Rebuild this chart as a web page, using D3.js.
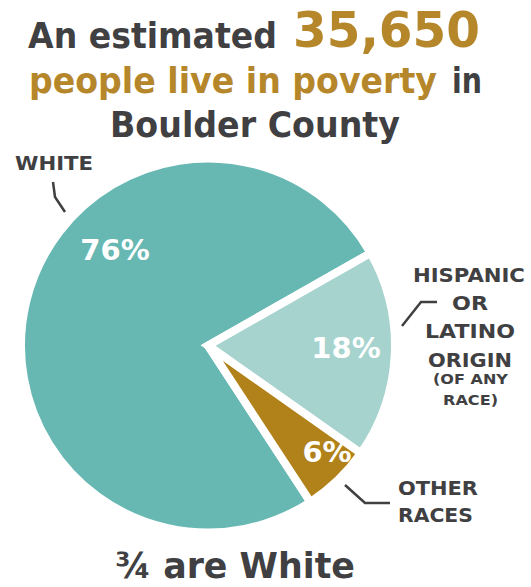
<!DOCTYPE html>
<html>
<head>
<meta charset="utf-8">
<script src="https://cdn.jsdelivr.net/npm/d3@7"></script>
<style>
  html, body { margin: 0; padding: 0; background: #ffffff; }
  svg { display: block; }
  text { font-family: "DejaVu Sans", sans-serif; font-weight: bold; }
</style>
</head>
<body>
<svg id="chart" width="531" height="587"></svg>
<script>
// Poverty population by race / ethnicity, Boulder County
const categories = ["White", "Hispanic or Latino origin (of any race)", "Other races"];
const shares = [76, 18, 6];
const valueLabels = ["76%", "18%", "6%"];
const sliceColors = ["#67b8b3", "#a6d3ce", "#b08219"];

const titleLines = [
  [{ t: "An estimated", gold: false }, { t: "35,650", gold: true }],
  [{ t: "people live in poverty", gold: true }, { t: "in", gold: false }],
  [{ t: "Boulder County", gold: false }]
];
const calloutWhite = ["WHITE"];
const calloutHispanic = ["HISPANIC", "OR", "LATINO", "ORIGIN", "(OF ANY", "RACE)"];
const calloutOther = ["OTHER", "RACES"];
const footnote = "\u00BE are White";

const svg = d3.select("#chart");
const dark = "#404042";
const gold = "#b5872a";

// Draws a text run whose ink spans [x, x + w] (or centred on x), squeezing
// the glyphs horizontally so the rendered box really has that width.
function fitted(parent, d) {
  const t = parent.append("text")
    .attr("font-size", d.size)
    .attr("fill", d.fill)
    .text(d.text);
  const natural = t.node().getComputedTextLength();
  const sx = Math.min(1.15, d.w / natural);
  const left = d.anchor === "middle" ? d.x - d.w / 2 : d.x;
  t.attr("transform", `translate(${left},${d.y}) scale(${sx},1)`);
  return t;
}

// ---- headline ----
const headline = [
  { text: titleLines[0][0].t, x: 28, w: 249, y: 48, size: 36, fill: dark },
  { text: titleLines[0][1].t, x: 293, w: 187, y: 47, size: 50, fill: gold },
  { text: titleLines[1][0].t, x: 29, w: 408, y: 93, size: 35, fill: gold },
  { text: titleLines[1][1].t, x: 452, w: 30, y: 93, size: 35, fill: dark },
  { text: titleLines[2][0].t, x: 110, w: 290, y: 137, size: 35, fill: dark }
];
headline.forEach(d => fitted(svg, d));

// ---- pie ----
const cx = 208, cy = 345.5, R = 187;
const deg = Math.PI / 180;
const startAngle = 146.8 * deg;

const pie = d3.pie().sort(null).value(d => d)
  .startAngle(startAngle).endAngle(startAngle + 2 * Math.PI);
const arc = d3.arc().innerRadius(0).outerRadius(R);
const arcs = pie(shares);

const g = svg.append("g").attr("transform", `translate(${cx},${cy})`);
g.selectAll("path").data(arcs).join("path")
  .attr("d", arc)
  .attr("fill", (d, i) => sliceColors[i])
  .attr("stroke", "#ffffff")
  .attr("stroke-width", 8)
  .attr("stroke-linejoin", "miter");

// percentage labels inside slices
const labelSpots = [[-93, -86], [138, 12], [119, 116]];
g.selectAll("text.pct").data(arcs).join("text")
  .attr("class", "pct")
  .attr("x", (d, i) => labelSpots[i][0])
  .attr("y", (d, i) => labelSpots[i][1])
  .attr("text-anchor", "middle")
  .attr("font-size", 29)
  .attr("fill", "#ffffff")
  .text((d, i) => valueLabels[i]);

// ---- callouts ----
const leader = d3.line();
const leaders = [
  [[53, 182], [55, 197], [65, 212]],
  [[402, 326], [421, 302], [437, 302]],
  [[345, 485], [365, 503], [390, 503]]
];
svg.selectAll("path.leader").data(leaders).join("path")
  .attr("class", "leader")
  .attr("d", leader)
  .attr("fill", "none")
  .attr("stroke", dark)
  .attr("stroke-width", 2.5);

const calloutText = [
  { text: calloutWhite[0], x: 54, y: 170, size: 20, w: 78, anchor: "middle" },
  { text: calloutHispanic[0], x: 469, y: 282, size: 20, w: 112, anchor: "middle" },
  { text: calloutHispanic[1], x: 470, y: 310, size: 20, w: 36, anchor: "middle" },
  { text: calloutHispanic[2], x: 470, y: 338, size: 20, w: 90, anchor: "middle" },
  { text: calloutHispanic[3], x: 470, y: 367, size: 20, w: 84, anchor: "middle" },
  { text: calloutHispanic[4], x: 470.5, y: 384, size: 14, w: 75, anchor: "middle" },
  { text: calloutHispanic[5], x: 470.5, y: 405, size: 14, w: 55, anchor: "middle" },
  { text: calloutOther[0], x: 398, y: 495, size: 20, w: 80, anchor: "start" },
  { text: calloutOther[1], x: 398, y: 522, size: 20, w: 75, anchor: "start" }
];
calloutText.forEach(d => fitted(svg, Object.assign({ fill: dark }, d)));

// ---- footnote ----
fitted(svg, { text: footnote, x: 115, y: 578, w: 240, size: 36, fill: dark });
</script>
</body>
</html>
